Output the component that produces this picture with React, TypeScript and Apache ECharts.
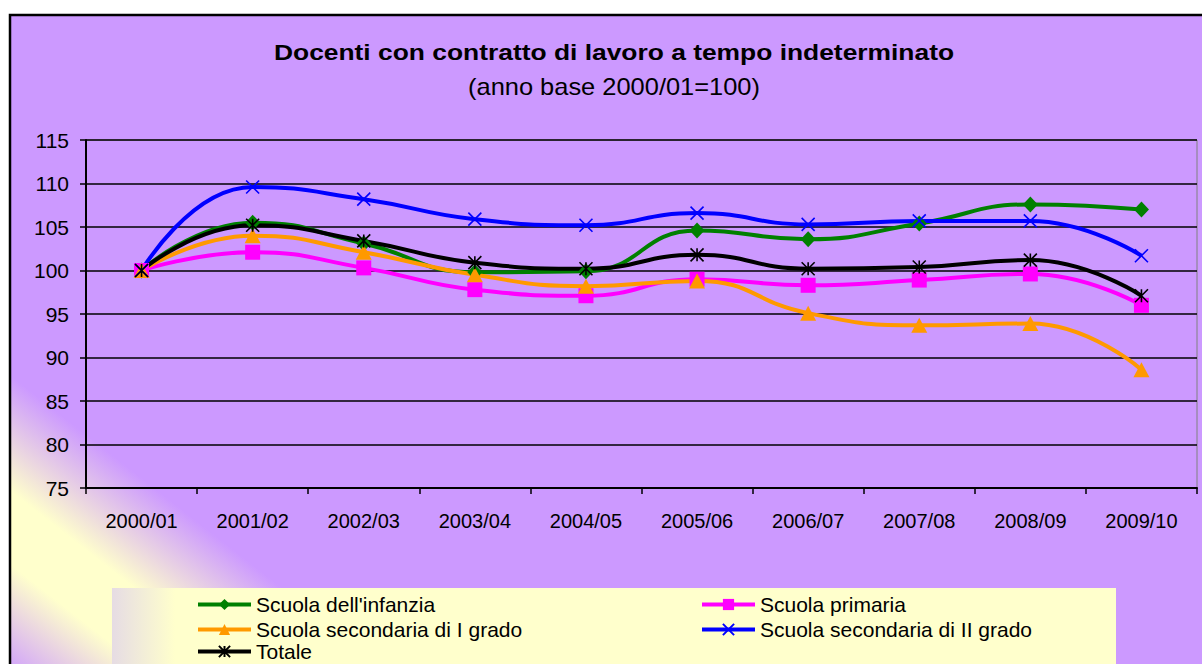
import React, { useEffect, useRef } from "react";
import * as echarts from "echarts";

const categories = ["2000/01", "2001/02", "2002/03", "2003/04", "2004/05", "2005/06", "2006/07", "2007/08", "2008/09", "2009/10"];
const infanzia = [100, 105.5, 103.1, 99.8, 99.9, 104.6, 103.6, 105.4, 107.6, 107.0];
const primaria = [100, 102.1, 100.3, 97.8, 97.1, 99.0, 98.3, 98.9, 99.6, 96.0];
const secondariaI = [100, 104.0, 102.1, 99.5, 98.2, 98.8, 95.1, 93.7, 93.9, 88.6];
const secondariaII = [100, 109.6, 108.2, 105.9, 105.2, 106.6, 105.3, 105.7, 105.7, 101.7];
const totale = [100, 105.2, 103.4, 100.9, 100.2, 101.8, 100.2, 100.4, 101.2, 97.1];

const names = [
  "Scuola dell'infanzia",
  "Scuola primaria",
  "Scuola secondaria di I grado",
  "Scuola secondaria di II grado",
  "Totale",
];

const titleText = "Docenti con contratto di lavoro a tempo indeterminato";
const subtitleText = "(anno base 2000/01=100)";

const FONT = "'Liberation Sans', Arial, sans-serif";
const CROSS = "path://M0 0L10 10M10 0L0 10";
const STAR = "path://M0 0L10 10M10 0L0 10M5 0L5 10";

export default function App() {
  const ref = useRef<HTMLDivElement>(null);
  useEffect(() => {
    document.body.style.margin = "0";
    const chart = echarts.init(ref.current!, null, { renderer: "svg" });

    const mk = (name: string, data: number[], color: string, symbol: string, size: any, stroke: boolean) => ({
      name,
      type: "line",
      data,
      smooth: 0.5,
      symbol,
      symbolSize: size,
      color,
      lineStyle: { color, width: 4 },
      itemStyle: stroke
        ? { color: color, borderColor: color, borderWidth: 1.6 }
        : { color: color, borderWidth: 0 },
      emphasis: { disabled: true },
      z: 3,
    });

    const legendItem = (name: string, left: number, top: number) => ({
      left,
      top,
      orient: "horizontal",
      itemWidth: 53,
      itemHeight: 14,
      padding: 0,
      lineStyle: { width: 4 },
      textStyle: { fontSize: 21, color: "#000", fontFamily: FONT },
      data: [name],
    });

    const option: any = {
      animation: false,
      backgroundColor: "#ffffff",
      textStyle: { fontFamily: FONT },
      graphic: [
        {
          type: "rect",
          z: -10,
          shape: { x: 10, y: 15, width: 1196, height: 700 },
          style: {
            fill: {
              type: "linear",
              global: true,
              x: 90,
              y: 437.6,
              x2: -57.8,
              y2: 626.7,
              colorStops: [
                { offset: 0, color: "#CC99FF" },
                { offset: 0.38, color: "#FFFFCC" },
                { offset: 0.62, color: "#FFFFCC" },
                { offset: 1, color: "#CC99FF" },
              ],
            },
            stroke: "#000000",
            lineWidth: 2.5,
          },
        },
        {
          type: "rect",
          z: -9,
          shape: { x: 112, y: 588, width: 1004, height: 90 },
          style: {
            fill: {
              type: "linear",
              global: true,
              x: 112,
              y: 0,
              x2: 175,
              y2: 0,
              colorStops: [
                { offset: 0, color: "#E6DCE4" },
                { offset: 1, color: "#FFFFCC" },
              ],
            },
          },
        },
        {
          type: "text",
          z: 5,
          x: 614,
          y: 52,
          scaleX: 1.2,
          style: {
            text: titleText,
            fontFamily: FONT,
            fontWeight: "bold",
            fontSize: 22,
            fill: "#000",
            textAlign: "center",
            textVerticalAlign: "middle",
          },
        },
        {
          type: "text",
          z: 5,
          x: 614,
          y: 87,
          scaleX: 1.06,
          style: {
            text: subtitleText,
            fontFamily: FONT,
            fontSize: 24,
            fill: "#000",
            textAlign: "center",
            textVerticalAlign: "middle",
          },
        },
      ],
      legend: [
        legendItem(names[0], 196, 594),
        legendItem(names[2], 196, 619),
        legendItem(names[4], 196, 641),
        legendItem(names[1], 700, 594),
        legendItem(names[3], 700, 619),
      ],
      grid: {
        left: 86,
        right: 5,
        top: 140,
        bottom: 176,
        containLabel: false,
        show: true,
        borderColor: "#808080",
        borderWidth: 1,
        backgroundColor: "transparent",
      },
      xAxis: {
        type: "category",
        data: categories,
        boundaryGap: true,
        axisLine: { lineStyle: { color: "#000", width: 2 } },
        axisTick: { show: true, length: 6, lineStyle: { color: "#000", width: 1.5 } },
        axisLabel: { fontSize: 20, color: "#000", margin: 23, fontFamily: FONT },
        splitLine: { show: false },
      },
      yAxis: {
        type: "value",
        min: 75,
        max: 115,
        interval: 5,
        axisLine: { show: true, lineStyle: { color: "#000", width: 2 } },
        axisTick: { show: true, length: 6, lineStyle: { color: "#000", width: 1.5 } },
        axisLabel: { fontSize: 21, color: "#000", margin: 17, fontFamily: FONT },
        splitLine: { show: true, lineStyle: { color: "#000", width: 1.5 } },
      },
      series: [
        mk(names[0], infanzia, "#008000", "diamond", [15, 16], false),
        mk(names[1], primaria, "#FF00FF", "rect", 15, false),
        mk(names[2], secondariaI, "#FF9900", "triangle", [16, 15], false),
        mk(names[3], secondariaII, "#0000FF", CROSS, 13, true),
        mk(names[4], totale, "#000000", STAR, 13, true),
      ],
    };
    chart.setOption(option);
    return () => chart.dispose();
  }, []);
  return <div ref={ref} style={{ width: 1202, height: 664 }} />;
}
